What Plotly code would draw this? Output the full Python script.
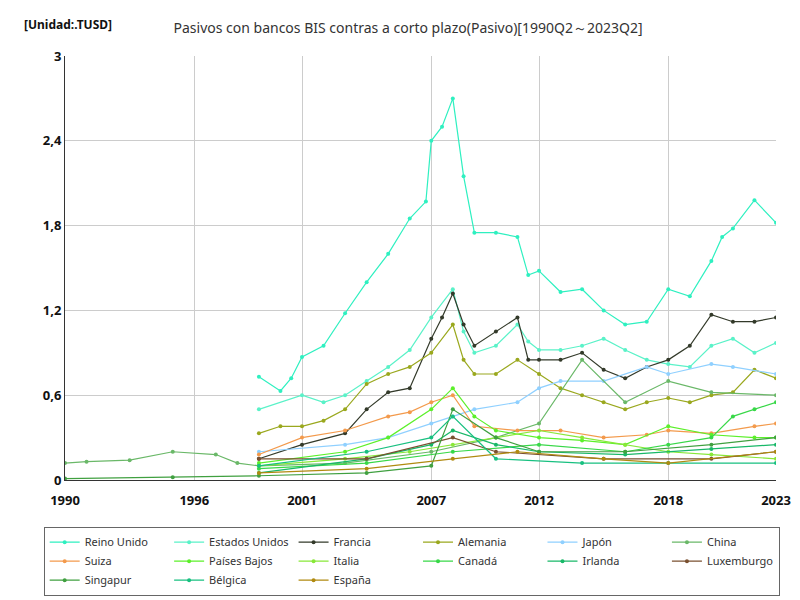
import plotly.graph_objects as go

names = ["Reino Unido","Estados Unidos","Francia","Alemania","Japón","China","Suiza","Países Bajos","Italia","Canadá","Irlanda","Luxemburgo","Singapur","Bélgica","España"]
colors = ["#2EF0C0","#5AF2C8","#333a2a","#9aa81e","#8fd0ff","#6ab868","#f39a4c","#5cf02a","#88e838","#38d848","#18b868","#7a5030","#40a040","#18c080","#b08a10"]

x_uk = [1999,2000,2000.5,2001,2002,2003,2004,2005,2006,2006.75,2007,2007.5,2008,2008.5,2009,2010,2011,2011.5,2012,2013,2014,2015,2016,2017,2018,2019,2020,2020.5,2021,2022,2023]
y_uk = [0.73,0.63,0.72,0.87,0.95,1.18,1.40,1.60,1.85,1.97,2.40,2.50,2.70,2.15,1.75,1.75,1.72,1.45,1.48,1.33,1.35,1.20,1.10,1.12,1.35,1.30,1.55,1.72,1.78,1.98,1.82]
x_us = [1999,2001,2002,2003,2004,2005,2006,2007,2008,2008.5,2009,2010,2011,2011.5,2012,2013,2014,2015,2016,2017,2018,2019,2020,2021,2022,2023]
y_us = [0.50,0.60,0.55,0.60,0.70,0.80,0.92,1.15,1.35,1.05,0.90,0.95,1.10,0.98,0.92,0.92,0.95,1.00,0.92,0.85,0.82,0.80,0.95,1.00,0.90,0.97]
x_fr = [1999,2001,2003,2004,2005,2006,2007,2007.5,2008,2008.5,2009,2010,2011,2011.5,2012,2013,2014,2015,2016,2017,2018,2019,2020,2021,2022,2023]
y_fr = [0.15,0.25,0.33,0.50,0.62,0.65,1.00,1.15,1.32,1.10,0.95,1.05,1.15,0.85,0.85,0.85,0.90,0.78,0.72,0.80,0.85,0.95,1.17,1.12,1.12,1.15]
x_de = [1999,2000,2001,2002,2003,2004,2005,2006,2007,2008,2008.5,2009,2010,2011,2012,2013,2014,2015,2016,2017,2018,2019,2020,2021,2022,2023]
y_de = [0.33,0.38,0.38,0.42,0.50,0.68,0.75,0.80,0.90,1.10,0.85,0.75,0.75,0.85,0.75,0.65,0.60,0.55,0.50,0.55,0.58,0.55,0.60,0.62,0.78,0.72]
x_jp = [1999,2003,2005,2007,2008,2009,2011,2012,2013,2015,2017,2018,2020,2021,2023]
y_jp = [0.20,0.25,0.30,0.40,0.45,0.50,0.55,0.65,0.70,0.70,0.80,0.75,0.82,0.80,0.75]
x_cn = [1990,1991,1993,1995,1997,1998,1999,2003,2007,2010,2012,2014,2016,2018,2020,2023]
y_cn = [0.12,0.13,0.14,0.20,0.18,0.12,0.10,0.12,0.20,0.30,0.40,0.85,0.55,0.70,0.62,0.60]
x_ch = [1999,2001,2003,2005,2006,2007,2008,2009,2011,2013,2015,2017,2018,2020,2022,2023]
y_ch = [0.18,0.30,0.35,0.45,0.48,0.55,0.60,0.38,0.35,0.35,0.30,0.32,0.35,0.33,0.38,0.40]
x_nl = [1999,2003,2005,2007,2008,2009,2010,2012,2014,2016,2018,2020,2022,2023]
y_nl = [0.12,0.20,0.30,0.50,0.65,0.45,0.35,0.30,0.28,0.25,0.38,0.32,0.30,0.30]
x_it = [1999,2003,2006,2008,2010,2012,2014,2016,2018,2020,2023]
y_it = [0.10,0.15,0.20,0.25,0.30,0.35,0.30,0.25,0.20,0.18,0.15]
x_ca = [1999,2004,2008,2012,2016,2018,2020,2021,2022,2023]
y_ca = [0.08,0.12,0.20,0.25,0.20,0.25,0.30,0.45,0.50,0.55]
x_ie = [1999,2004,2007,2008,2010,2012,2016,2020,2023]
y_ie = [0.05,0.15,0.25,0.35,0.25,0.20,0.18,0.22,0.25]
x_lu = [1999,2004,2008,2010,2015,2020,2023]
y_lu = [0.15,0.15,0.30,0.20,0.15,0.15,0.20]
x_sg = [1990,1995,1999,2004,2007,2008,2010,2012,2016,2020,2023]
y_sg = [0.01,0.02,0.03,0.05,0.10,0.50,0.30,0.20,0.20,0.25,0.30]
x_be = [1999,2004,2007,2008,2010,2014,2018,2023]
y_be = [0.10,0.20,0.30,0.45,0.15,0.12,0.12,0.12]
x_es = [1999,2004,2008,2011,2015,2018,2023]
y_es = [0.05,0.08,0.15,0.20,0.15,0.12,0.20]

xs = [x_uk,x_us,x_fr,x_de,x_jp,x_cn,x_ch,x_nl,x_it,x_ca,x_ie,x_lu,x_sg,x_be,x_es]
ys = [y_uk,y_us,y_fr,y_de,y_jp,y_cn,y_ch,y_nl,y_it,y_ca,y_ie,y_lu,y_sg,y_be,y_es]

fig = go.Figure()
for n, c, x, y in zip(names, colors, xs, ys):
    fig.add_trace(go.Scatter(x=x, y=y, name=n, mode="lines+markers",
                             line=dict(color=c, width=1.2), marker=dict(size=4, color=c)))

fig.update_layout(
    width=800, height=600, plot_bgcolor="white", paper_bgcolor="white",
    font=dict(family="Noto Sans", size=12, color="#333"),
    title=dict(text="Pasivos con bancos BIS contras a corto plazo(Pasivo)[1990Q2～2023Q2]", x=0.5, y=0.975, font=dict(size=14)),
    margin=dict(l=57, r=32, t=48, b=113),
    separators=",.",
    xaxis=dict(range=[1990,2023], tickvals=[1990,1996,2001,2007,2012,2018,2023], showgrid=True, gridcolor="#ccc",
               linecolor="#333", tickfont=dict(size=13, color="#111", weight="bold"), zeroline=False, ticklabelstandoff=8),
    yaxis=dict(range=[0,3], tickvals=[0,0.6,1.2,1.8,2.4,3], ticktext=["0","0,6","1,2","1,8","2,4","3"],
               showgrid=True, gridcolor="#ccc", linecolor="#333", tickfont=dict(size=13, color="#111", weight="bold"), zeroline=False),
    legend=dict(orientation="h", x=-0.03, y=-0.11, xanchor="left", yanchor="top", bordercolor="#666", borderwidth=1,
                font=dict(size=11), entrywidthmode="pixels", entrywidth=0, itemwidth=30, tracegroupgap=0),
    annotations=[dict(text="<b>[Unidad:.TUSD]</b>", xref="paper", yref="paper", x=-0.06, y=1.1, showarrow=False,
                      font=dict(size=12, color="#111"), xanchor="left")]
)
fig.write_html("out.html")
